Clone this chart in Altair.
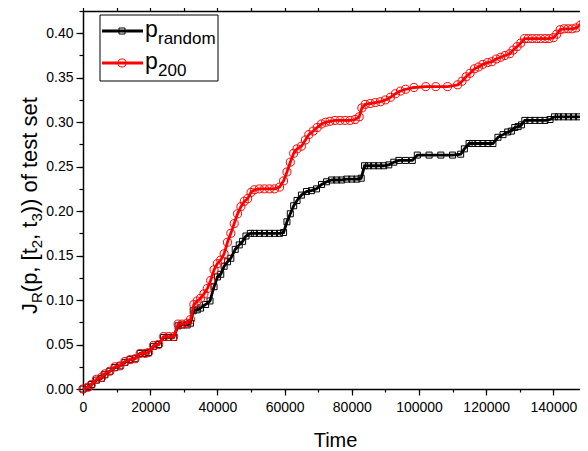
import altair as alt
import pandas as pd

# ---------------- data ----------------
time_random = [0, 1500, 2500, 4000, 5500, 6500, 8000, 9500, 11000, 12500, 14000, 15500,
               17000, 18500, 19500, 21000, 22500, 24000, 25500, 27000, 28300, 29500, 31000,
               32000, 32800, 34000, 35000, 36500, 37800, 39000, 40000, 41000, 42000, 43000,
               44000, 45300, 46500, 47500, 48500, 49800, 51000, 52500, 54000, 55500, 57000,
               58500, 59700, 60700, 61700, 62700, 63700, 65000, 66500, 68000, 69500, 71000,
               72500, 74000, 75500, 77000, 78500, 80000, 81500, 82800, 83800, 85000, 86500,
               88000, 89500, 91000, 92500, 94000, 96000, 98000, 99500, 103000, 106500,
               110000, 112400, 113500, 114900, 116000, 117500, 119000, 120500, 122000,
               123500, 125000, 126400, 127500, 128500, 129500, 130500, 131500, 133000,
               134500, 136000, 137500, 139000, 140300, 141500, 143000, 144500, 146000,
               147500, 149000, 150000]
val_random = [0.000, 0.002, 0.005, 0.010, 0.012, 0.016, 0.020, 0.024, 0.026, 0.030, 0.033, 0.034,
              0.040, 0.040, 0.041, 0.048, 0.050, 0.058, 0.058, 0.058, 0.071, 0.072, 0.072,
              0.074, 0.088, 0.089, 0.091, 0.095, 0.099, 0.115, 0.126, 0.129, 0.138, 0.143,
              0.147, 0.157, 0.162, 0.166, 0.172, 0.175, 0.175, 0.175, 0.175, 0.175, 0.175,
              0.175, 0.176, 0.188, 0.197, 0.206, 0.212, 0.218, 0.222, 0.223, 0.225, 0.230,
              0.233, 0.235, 0.235, 0.235, 0.236, 0.236, 0.236, 0.237, 0.251, 0.251, 0.251,
              0.251, 0.251, 0.252, 0.255, 0.257, 0.257, 0.257, 0.263, 0.263, 0.263,
              0.263, 0.264, 0.270, 0.276, 0.276, 0.276, 0.276, 0.276, 0.276,
              0.283, 0.286, 0.289, 0.290, 0.294, 0.295, 0.297, 0.302, 0.302,
              0.302, 0.302, 0.302, 0.303, 0.306, 0.306, 0.306, 0.306, 0.306,
              0.306, 0.306, 0.310]

time_200 = [0, 1500, 2500, 4000, 5500, 6500, 8000, 9500, 11000, 12500, 14000, 15500,
            17000, 18500, 19500, 21000, 22500, 24000, 25500, 27000, 28300, 29500, 31000,
            32000, 33000, 34000, 35000, 36000, 37000, 38000, 39000, 40000, 41000, 42000,
            43000, 44000, 45000, 46000, 47000, 48000, 49000, 50000, 51000, 52500, 54000,
            55500, 57000, 58500, 59700, 60700, 61700, 62700, 63700, 65000, 66200, 67200,
            68500, 69700, 71000, 72200, 73500, 75000, 76500, 78000, 79500, 81000, 82200,
            83000, 84000, 85500, 87000, 88500, 90000, 91500, 93000, 94500, 96000, 98500,
            102000, 105000, 108500, 111500, 112800, 114000, 115200, 116500, 117700,
            119000, 120400, 121700, 123000, 124300, 125600, 127000, 128000, 129200,
            130300, 131400, 132500, 133700, 135000, 136200, 137500, 138700, 140000,
            141000, 142000, 143200, 144400, 145600, 146800, 148000, 149000, 150000]
val_200 = [0.000, 0.002, 0.005, 0.011, 0.013, 0.017, 0.020, 0.025, 0.026, 0.031, 0.033, 0.034,
           0.040, 0.040, 0.041, 0.049, 0.050, 0.059, 0.059, 0.059, 0.073, 0.073, 0.074,
           0.078, 0.095, 0.099, 0.102, 0.107, 0.113, 0.122, 0.134, 0.141, 0.145, 0.152,
           0.165, 0.175, 0.186, 0.197, 0.205, 0.211, 0.214, 0.221, 0.224, 0.225, 0.225,
           0.225, 0.225, 0.227, 0.234, 0.244, 0.255, 0.265, 0.270, 0.273, 0.280, 0.286,
           0.290, 0.294, 0.298, 0.300, 0.301, 0.302, 0.302, 0.302, 0.302, 0.303, 0.306,
           0.316, 0.320, 0.321, 0.322, 0.323, 0.325, 0.328, 0.332, 0.335, 0.337, 0.339,
           0.340, 0.340, 0.340, 0.342, 0.346, 0.351, 0.355, 0.360, 0.362,
           0.365, 0.367, 0.368, 0.371, 0.373, 0.375, 0.377, 0.381, 0.385,
           0.389, 0.394, 0.394, 0.394, 0.394, 0.394, 0.394, 0.394, 0.395,
           0.399, 0.404, 0.405, 0.405, 0.405, 0.406, 0.409, 0.412, 0.414]

x_major = [0, 20000, 40000, 60000, 80000, 100000, 120000, 140000]
x_minor = [0, 10000, 20000, 30000, 40000, 50000, 60000, 70000, 80000, 90000,
           100000, 110000, 120000, 130000, 140000, 150000]
y_major = [0.00, 0.05, 0.10, 0.15, 0.20, 0.25, 0.30, 0.35, 0.40]
y_minor = [0.000, 0.025, 0.050, 0.075, 0.100, 0.125, 0.150, 0.175, 0.200, 0.225,
           0.250, 0.275, 0.300, 0.325, 0.350, 0.375, 0.400, 0.425]

x_domain = [0, 150000]
y_domain = [0, 0.425]

FONT = "Liberation Sans"

df_r = pd.DataFrame({"t": time_random, "v": val_random})
df_p = pd.DataFrame({"t": time_200, "v": val_200})

xs = alt.Scale(domain=x_domain, nice=False, zero=False)
ys = alt.Scale(domain=y_domain, nice=False, zero=False)

common_axis = dict(domainColor="black", tickColor="black", labelColor="black",
                   grid=False, labelFont=FONT, titleFont=FONT, titleColor="black",
                   domainWidth=1.5, tickWidth=1.2, labelFlush=False)

ax_x_major = alt.Axis(orient="bottom", values=x_major, format="d", labelFontSize=14,
                      tickSize=6, labelPadding=5, title="Time", titleFontSize=20,
                      titleFontWeight="normal", titlePadding=16, **common_axis)
ax_y_major = alt.Axis(orient="left", values=y_major, format=".2f", labelFontSize=14,
                      tickSize=7, labelPadding=3, title="", **common_axis)
ax_x_minor = alt.Axis(orient="bottom", values=x_minor, labels=False, tickSize=3,
                      domain=False, title="", **common_axis)
ax_y_minor = alt.Axis(orient="left", values=y_minor, labels=False, tickSize=4,
                      domain=False, title="", **common_axis)
ax_x_top = alt.Axis(orient="top", values=x_minor, labels=False, tickSize=8,
                    title="", **common_axis)

# data layers
line_r = alt.Chart(df_r).mark_line(color="black", strokeWidth=2.8).encode(
    x=alt.X("t:Q", scale=xs, axis=ax_x_major),
    y=alt.Y("v:Q", scale=ys, axis=ax_y_major))
pts_r = alt.Chart(df_r).mark_point(shape="square", filled=False, size=36, strokeWidth=1,
                                   color="black", opacity=1).encode(
    x=alt.X("t:Q", scale=xs, axis=ax_x_minor),
    y=alt.Y("v:Q", scale=ys, axis=ax_y_minor))
line_p = alt.Chart(df_p).mark_line(color="#ff0000", strokeWidth=2.8).encode(
    x=alt.X("t:Q", scale=xs, axis=ax_x_top),
    y=alt.Y("v:Q", scale=ys, axis=None))
pts_p = alt.Chart(df_p).mark_point(shape="circle", filled=False, size=65, strokeWidth=1,
                                   color="#ff0000", opacity=1).encode(
    x=alt.X("t:Q", scale=xs, axis=None),
    y=alt.Y("v:Q", scale=ys, axis=None))

one = pd.DataFrame({"k": [0]})

# legend (pixel positions inside the plot frame)
leg_box = alt.Chart(one).mark_rect(fill="white", stroke="black", strokeWidth=1).encode(
    x=alt.value(17), x2=alt.value(135), y=alt.value(4), y2=alt.value(70))
leg_l1 = alt.Chart(one).mark_rule(color="black", strokeWidth=2.8).encode(
    x=alt.value(19), x2=alt.value(60), y=alt.value(20))
leg_m1 = alt.Chart(one).mark_point(shape="square", filled=False, size=36, strokeWidth=1,
                                   color="black", opacity=1).encode(
    x=alt.value(39), y=alt.value(20))
leg_l2 = alt.Chart(one).mark_rule(color="#ff0000", strokeWidth=2.8).encode(
    x=alt.value(19), x2=alt.value(60), y=alt.value(52))
leg_m2 = alt.Chart(one).mark_point(shape="circle", filled=False, size=65, strokeWidth=1,
                                   color="#ff0000", opacity=1).encode(
    x=alt.value(39), y=alt.value(52))


def txt(s, x, y, size, angle=0):
    kw = dict(text=s, font=FONT, fontSize=size, align="left", baseline="alphabetic",
              color="black")
    if angle:
        kw["angle"] = angle
    return alt.Chart(one).mark_text(**kw).encode(x=alt.value(x), y=alt.value(y))


leg_t = [txt("p", 62, 26, 23), txt("random", 75, 33, 17),
         txt("p", 62, 58, 23), txt("200", 75, 65, 17)]

# y-axis title with subscripts, rotated
ytitle = [
    txt("J", -46, 303, 22, 270),
    txt("R", -41, 292, 15, 270),
    txt("(p, [t", -46, 281.2, 22, 270),
    txt("2", -41, 237.2, 15, 270),
    txt(", t", -46, 228.9, 22, 270),
    txt("3", -41, 210.6, 15, 270),
    txt(")) of test set", -46, 202.3, 22, 270),
]

chart = alt.layer(line_r, pts_r, line_p, pts_p, leg_box, leg_l1, leg_m1, leg_l2, leg_m2,
                  *leg_t, *ytitle).resolve_axis(x="independent", y="independent").properties(
    width=504, height=378,
    autosize=alt.AutoSizeParams(type="none"),
    padding={"left": 75, "top": 3, "right": -7, "bottom": 60},
).configure_view(stroke=None).configure(background="white")

chart.save("out.html", embed_options={"renderer": "svg", "actions": False})
